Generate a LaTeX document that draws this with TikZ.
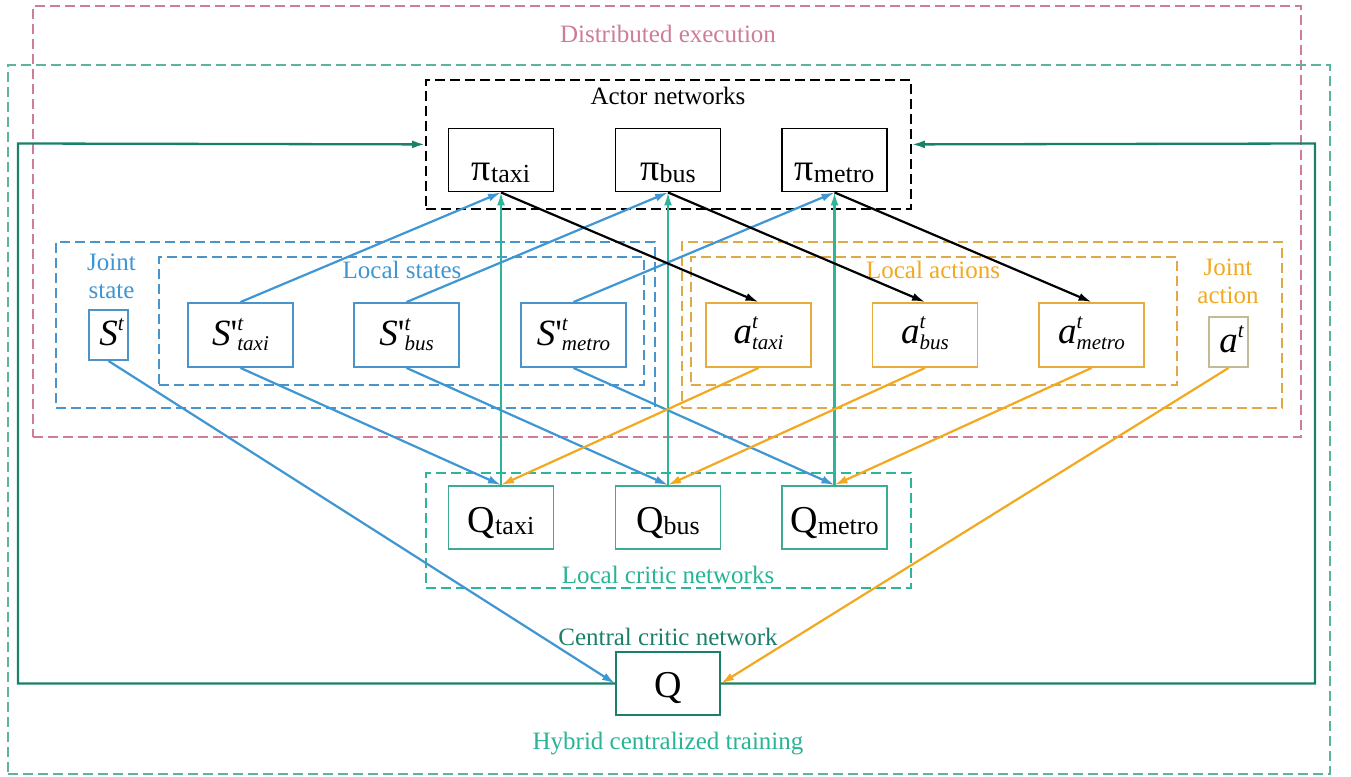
\documentclass[tikz,border=0pt]{standalone}
\usepackage{fontspec}
\setmainfont{Liberation Serif}
\usetikzlibrary{arrows.meta}

\definecolor{execpink}{RGB}{206,124,152}
\definecolor{trainteal}{RGB}{92,180,160}
\definecolor{trainlbl}{RGB}{40,180,150}
\definecolor{statblue}{RGB}{62,150,210}
\definecolor{statbox}{RGB}{74,148,204}
\definecolor{actorange}{RGB}{242,169,32}
\definecolor{actbox}{RGB}{232,172,60}
\definecolor{actdash}{RGB}{222,170,70}
\definecolor{jointbox}{RGB}{196,186,150}
\definecolor{critteal}{RGB}{43,181,155}
\definecolor{critbox}{RGB}{60,170,148}
\definecolor{centgreen}{RGB}{27,128,106}

% font helpers for the node contents
\newcommand\bigsub[2]{{\fontsize{38}{40}\selectfont #1}\raisebox{-2pt}{\fontsize{26}{28}\selectfont #2}}
\newcommand\bigit{\fontsize{37}{40}\selectfont\itshape}
\newcommand\smallit{\fontsize{21}{22}\selectfont\itshape}
\newcommand\tsup[2]{\rlap{\raisebox{15pt}{\smallit t}}\raisebox{#1}{\smallit #2}}

\begin{document}
\begin{tikzpicture}[x=1pt,y=-1pt,
  lbl/.style={inner sep=0pt, font=\fontsize{25}{28}\selectfont},
  dbox/.style={draw, dash pattern=on 10pt off 5pt, line width=1.8pt, inner sep=0pt, anchor=north west},
  net/.style={draw, line width=1.9pt, inner sep=0pt, minimum width=105pt, minimum height=63pt},
  pibox/.style={net, text height=40pt, text depth=0pt},
  qbox/.style={net, draw=critbox, text height=29pt, text depth=0pt},
  sbox/.style={net, draw=statbox, minimum height=64pt, text height=20pt, text depth=0pt},
  abox/.style={net, draw=actbox, minimum height=64pt, text height=16pt, text depth=0pt},
  jbox/.style={draw, line width=1.9pt, inner sep=0pt, minimum width=39pt, minimum height=50pt, text height=20pt, text depth=0pt},
  conn/.style={line width=2.2pt, -{Latex[length=13pt,width=8pt]}},
]
\fill[white] (0,0) rectangle (1351,776);
\useasboundingbox (0,0) rectangle (1351,776);

% grouping frames
\node[dbox, draw=execpink, minimum width=1268pt, minimum height=431pt] (exec) at (32,5) {};
\node[dbox, draw=trainteal, minimum width=1322pt, minimum height=709pt] (train) at (7,64) {};
\node[dbox, draw=black, minimum width=485pt, minimum height=129pt] (actors) at (425,79) {};
\node[dbox, draw=statbox, minimum width=599pt, minimum height=166pt] (states) at (55,241) {};
\node[dbox, draw=statbox, minimum width=485pt, minimum height=128pt] (lstates) at (158,256) {};
\node[dbox, draw=actdash, minimum width=600pt, minimum height=166pt] (actions) at (681,241) {};
\node[dbox, draw=actdash, minimum width=486pt, minimum height=128pt] (lactions) at (690,256) {};
\node[dbox, draw=critteal, minimum width=485pt, minimum height=115pt] (critics) at (425,472) {};

% frame captions
\node[lbl, text=execpink] (tExec) at (668,34) {Distributed execution};
\node[lbl, text=trainlbl] (tTrain) at (668,744) {Hybrid centralized training};
\node[lbl] (tActors) at (668,96) {Actor networks};
\node[lbl, text=statblue, align=center] (tJs) at (111.5,276) {Joint\\state};
\node[lbl, text=statblue] (tLs) at (402,270) {Local states};
\node[lbl, text=actorange] (tLa) at (933,270) {Local actions};
\node[lbl, text=actorange, align=center] (tJa) at (1228,281) {Joint\\action};
\node[lbl, text=trainlbl] (tLc) at (668,575) {Local critic networks};
\node[lbl, text=centgreen] (tCc) at (668,637) {Central critic network};

% actor networks
\node[pibox] (pitaxi) at (501,160) {\bigsub{π}{taxi}};
\node[pibox] (pibus) at (668,160) {\bigsub{π}{bus}};
\node[pibox] (pimetro) at (834.5,160) {\bigsub{π}{metro}};

% states
\node[jbox, draw=statbox] (St) at (108.5,335) {{\bigit S}\tsup{0pt}{}};
\node[sbox] (Staxi) at (240.5,335) {{\bigit S\upshape\textquotesingle}\tsup{-5pt}{taxi}};
\node[sbox] (Sbus) at (406.5,335) {{\bigit S\upshape\textquotesingle}\tsup{-5pt}{bus}};
\node[sbox] (Smetro) at (573.5,335) {{\bigit S\upshape\textquotesingle}\tsup{-5pt}{metro}};

% actions
\node[abox] (ataxi) at (758.5,335) {{\bigit a}\tsup{-6pt}{taxi}};
\node[abox] (abus) at (925,335) {{\bigit a}\tsup{-6pt}{bus}};
\node[abox] (ametro) at (1091.5,335) {{\bigit a}\tsup{-6pt}{metro}};
\node[jbox, draw=jointbox] (at) at (1228.5,342) {{\bigit a}\tsup{0pt}{}};

% critics
\node[qbox] (Qtaxi) at (501,517.5) {\bigsub{Q}{taxi}};
\node[qbox] (Qbus) at (668,517.5) {\bigsub{Q}{bus}};
\node[qbox] (Qmetro) at (834.5,517.5) {\bigsub{Q}{metro}};
\node[net, draw=centgreen, minimum width=104pt, text height=27pt, text depth=0pt] (Qc) at (668,683.5) {{\fontsize{38}{40}\selectfont Q}};

% feedback loops from the central critic to the actors
\coordinate (fbL) at (18,143.5);
\coordinate (fbR) at (1315,143.5);
\draw[conn, draw=centgreen, line width=2.3pt] (Qc.west) -| (fbL) -- (actors.west);
\draw[conn, draw=centgreen, line width=2.3pt] (Qc.east) -| (fbR) -- (actors.east);

% local critics to actors
\draw[conn, draw=critteal] (Qtaxi.north) -- (pitaxi.south);
\draw[conn, draw=critteal] (Qbus.north) -- (pibus.south);
\draw[conn, draw=critteal] (Qmetro.north) -- (pimetro.south);

% local states to actors
\draw[conn, draw=statblue] (Staxi.north) -- (pitaxi.south);
\draw[conn, draw=statblue] (Sbus.north) -- (pibus.south);
\draw[conn, draw=statblue] (Smetro.north) -- (pimetro.south);

% actors to local actions
\draw[conn, draw=black] (pitaxi.south) -- (ataxi.north);
\draw[conn, draw=black] (pibus.south) -- (abus.north);
\draw[conn, draw=black] (pimetro.south) -- (ametro.north);

% local states and actions to local critics
\draw[conn, draw=statblue] (Staxi.south) -- (Qtaxi.north);
\draw[conn, draw=statblue] (Sbus.south) -- (Qbus.north);
\draw[conn, draw=statblue] (Smetro.south) -- (Qmetro.north);
\draw[conn, draw=actorange] (ataxi.south) -- (Qtaxi.north);
\draw[conn, draw=actorange] (abus.south) -- (Qbus.north);
\draw[conn, draw=actorange] (ametro.south) -- (Qmetro.north);

% joint state and joint action to the central critic
\draw[conn, draw=statblue] (St.south) -- (Qc.west);
\draw[conn, draw=actorange] (at.south) -- (Qc.east);
\end{tikzpicture}
\end{document}
